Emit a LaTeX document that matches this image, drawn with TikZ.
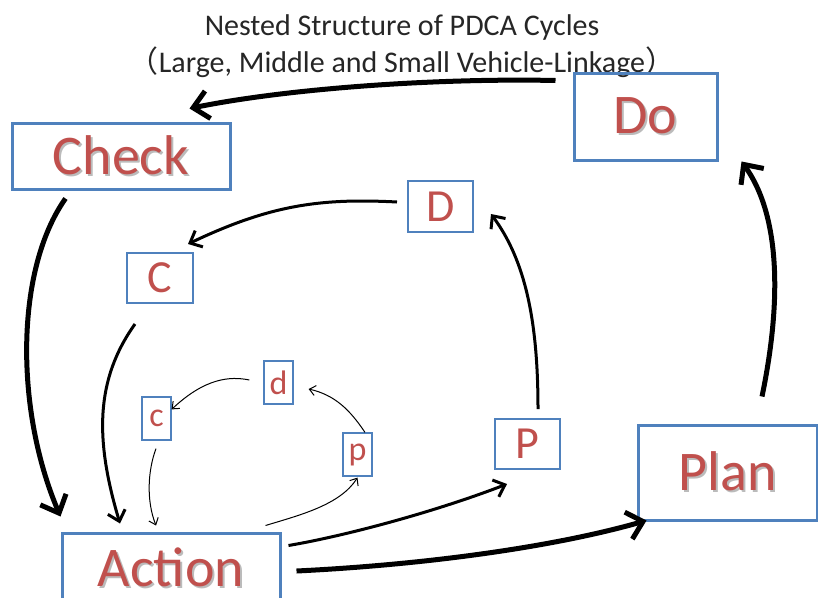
\documentclass[tikz,border=0pt]{standalone}
\usepackage{fontspec}
\setmainfont{Carlito}
\newfontfamily\cjk{Noto Sans CJK JP}
\usetikzlibrary{arrows.meta,calc}
\definecolor{txtred}{HTML}{C0504D}
\definecolor{boxblue}{HTML}{4F81BD}
\definecolor{shadowgray}{HTML}{BBBBBB}
\newcommand{\shd}[1]{\makebox[0pt][l]{\hspace{2pt}\raisebox{-2pt}{\color{shadowgray}#1}}{\color{txtred}#1}}
\tikzset{
  bigbox/.style={draw=boxblue, line width=3pt, inner sep=0pt, text=txtred, font=\fontsize{56}{60}\selectfont},
  midbox/.style={draw=boxblue, line width=2pt, inner sep=0pt, text=txtred, font=\fontsize{46}{50}\selectfont},
  smallbox/.style={draw=boxblue, line width=1.2pt, inner sep=0pt, text=txtred, font=\fontsize{34}{38}\selectfont},
  bigarrow/.style={line width=5pt, -{Straight Barb[length=15pt,width=28pt]}},
  midarrow/.style={line width=3pt, -{Straight Barb[length=10pt,width=18pt]}},
  smallarrow/.style={line width=1pt, -{Straight Barb[length=6pt,width=10pt]}},
  titletext/.style={anchor=base, text=black!85, font=\fontsize{30}{33}\selectfont}
}
\begin{document}
\begin{tikzpicture}[x=1pt,y=-1pt]
\useasboundingbox (0,0) rectangle (818,597);
% title
\node[titletext] (title1) at (402,35) {Nested Structure of PDCA Cycles};
\node[titletext] (title2) at (402,72) {{\cjk （}Large, Middle and Small Vehicle-Linkage{\cjk ）}};
% large boxes
\node[bigbox, minimum width=143pt, minimum height=87pt] (Do) at (645.5,116.5) {\shd{Do}};
\node[bigbox, minimum width=218pt, minimum height=66pt] (Check) at (121,156) {\shd{Check}};
\node[bigbox, minimum width=179pt, minimum height=95pt] (Plan) at (727.5,472.5) {\shd{Plan}};
\node[bigbox, minimum width=218pt, minimum height=70pt] (Action) at (171,568) {\raisebox{1.5pt}{\shd{Action}}};
% middle boxes
\node[midbox, minimum width=65pt, minimum height=51pt] (D) at (440.5,206.5) {D};
\node[midbox, minimum width=66pt, minimum height=50pt] (C) at (160,278) {C};
\node[midbox, minimum width=65pt, minimum height=50pt] (P) at (527.5,444) {P};
% small boxes
\node[smallbox, minimum width=29pt, minimum height=43pt] (c) at (156.5,418.5) {c};
\node[smallbox, minimum width=29pt, minimum height=43pt] (d) at (278.5,382.5) {d};
\node[smallbox, minimum width=29pt, minimum height=43pt] (p) at (357.5,454.5) {p};
% large cycle
\draw[bigarrow] ($(Do.north west)+(-17,9)$) .. controls (440,78) and (290,88) .. ($(Check.north east)+(-42,-13)$);
\draw[bigarrow] ($(Check.south west)+(55,8)$) .. controls (15,270) and (15,410) .. ($(Action.north west)+(0,-15)$);
\draw[bigarrow] ($(Action.east)+(15,3)$) .. controls (420,565) and (550,548) .. ($(Plan.south west)+(10,-1)$);
\draw[bigarrow] ($(Plan.north)+(34.5,-27)$) .. controls (782,300) and (780,215) .. ($(Do.south east)+(23,0)$);
% middle cycle
\draw[midarrow] ($(D.west)+(-10,-4.5)$) .. controls (320,198) and (270,205) .. ($(C.north east)+(-6,-8)$);
\draw[midarrow] ($(C.south)+(-25,20)$) .. controls (95,380) and (95,440) .. ($(Action.north)+(-51,-8)$);
\draw[midarrow] ($(Action.north east)+(7,14)$) .. controls (350,535) and (440,510) .. ($(P.south west)+(13,14)$);
\draw[midarrow] ($(P.north)+(10.5,-9)$) .. controls (538,320) and (525,260) .. ($(D.south east)+(17,-19)$);
% small cycle
\draw[smallarrow] ($(d.west)+(-14,-2.5)$) .. controls (230,376) and (205,378) .. ($(c.north east)+(0,13)$);
\draw[smallarrow] ($(c.south)+(-0.5,8)$) .. controls (148,470) and (146,500) .. ($(Action.north)+(-15,-6)$);
\draw[smallarrow] ($(Action.north east)+(-16,-6)$) .. controls (300,515) and (340,505) .. ($(p.south)+(0,1)$);
\draw[smallarrow] ($(p.north)+(7.5,0)$) .. controls (350,410) and (335,395) .. ($(d.east)+(15,6.5)$);
\end{tikzpicture}
\end{document}
